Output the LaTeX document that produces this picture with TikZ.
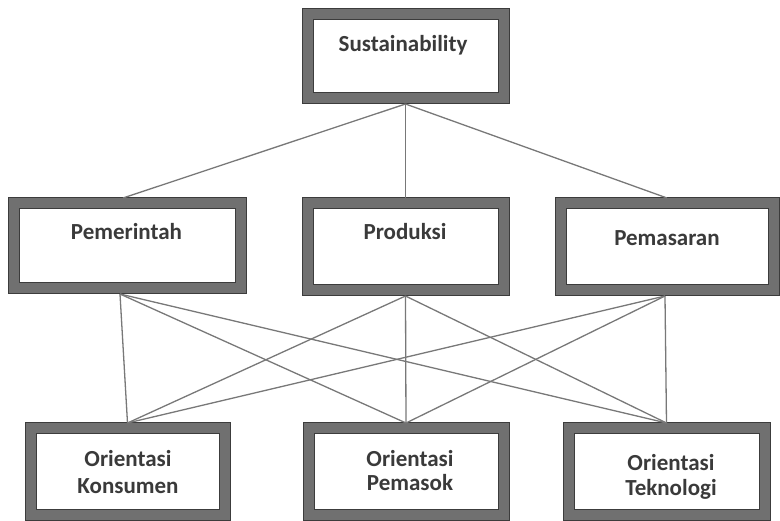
\documentclass[tikz,border=0pt]{standalone}
\usepackage{fontspec}
\setmainfont{Carlito}
\definecolor{bordergray}{RGB}{112,112,112}
\definecolor{borderdark}{RGB}{60,60,60}
\definecolor{linegray}{RGB}{120,120,120}
\definecolor{txtgray}{RGB}{58,58,58}
\tikzset{
  box/.style={draw=bordergray, fill=white, line width=11pt, inner sep=0pt},
  boxedge/.style={draw=borderdark, line width=1pt},
  lbl/.style={anchor=base, inner sep=0pt, text=txtgray, font=\fontsize{23}{27}\selectfont\bfseries},
  conn/.style={draw=linegray, line width=1.3pt}
}
\newcommand{\boxoutline}[1]{%
  \draw[boxedge] (#1.north west) rectangle (#1.south east);
  \draw[boxedge] ([shift={(11,11)}]#1.north west) rectangle ([shift={(-11,-11)}]#1.south east);}
\begin{document}
\begin{tikzpicture}[x=1pt,y=-1pt]
\useasboundingbox (0,0) rectangle (780,521);
% boxes
\node[box, minimum width=196pt, minimum height=84pt] (sus) at (405.5,56.5) {};
\node[box, minimum width=227pt, minimum height=85pt] (pem) at (127,246) {};
\node[box, minimum width=196pt, minimum height=87pt] (pro) at (405.5,247) {};
\node[box, minimum width=213pt, minimum height=87pt] (pms) at (667,247) {};
\node[box, minimum width=194pt, minimum height=87pt] (kon) at (127.5,472) {};
\node[box, minimum width=195pt, minimum height=87pt] (pmk) at (406,472) {};
\node[box, minimum width=196pt, minimum height=87pt] (tek) at (666.5,472) {};
\boxoutline{sus}\boxoutline{pem}\boxoutline{pro}\boxoutline{pms}
\boxoutline{kon}\boxoutline{pmk}\boxoutline{tek}
% texts
\node[lbl] (tsus) at (403,52) {Sustainability};
\node[lbl] (tpem) at (126.5,240) {Pemerintah};
\node[lbl] (tpro) at (405,240) {Produksi};
\node[lbl] (tpms) at (667,246) {Pemasaran};
\node[lbl] (tkon1) at (128,467) {Orientasi};
\node[lbl] (tkon2) at (128,494) {Konsumen};
\node[lbl] (tpmk1) at (410,467) {Orientasi};
\node[lbl] (tpmk2) at (410,490) {Pemasok};
\node[lbl] (ttek1) at (671,471) {Orientasi};
\node[lbl] (ttek2) at (671,496) {Teknologi};
% connectors top level
\draw[conn] (sus.south) -- ([xshift=-4pt]pem.north);
\draw[conn] (sus.south) -- (pro.north);
\draw[conn] (sus.south) -- (pms.north);
% connectors lower level
\foreach \a/\d in {pem/-7, pro/0, pms/-2}{
  \foreach \b in {kon, pmk, tek}{
    \draw[conn] ([xshift=\d pt]\a.south) -- (\b.north);
  }
}
\end{tikzpicture}
\end{document}
